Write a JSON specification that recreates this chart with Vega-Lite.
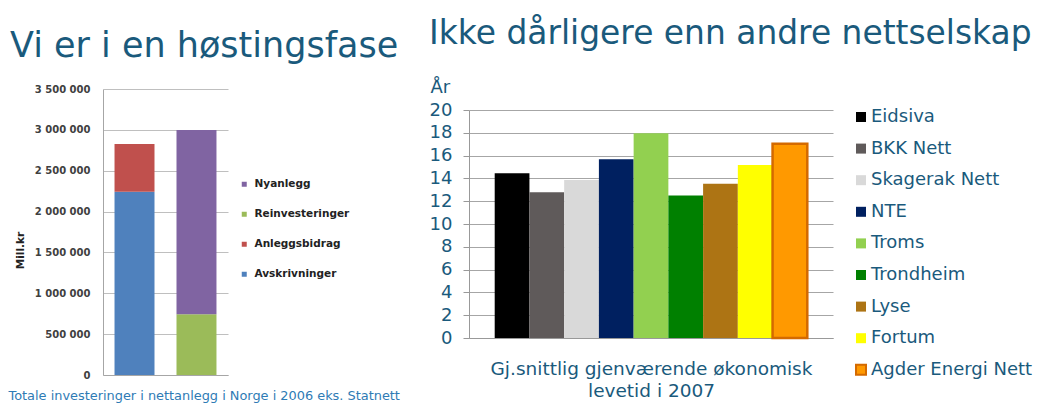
{
  "$schema": "https://vega.github.io/schema/vega-lite/v6.json",
  "background": "white",
  "padding": {"left": 8, "top": 18, "right": 4, "bottom": 2},
  "spacing": 29,
  "resolve": {"scale": {"color": "independent", "stroke": "independent", "x": "independent", "y": "independent"}, "legend": {"color": "independent", "stroke": "independent"}},
  "config": {"view": {"stroke": null}, "font": "DejaVu Sans"},
  "hconcat": [
    {
      "width": 125,
      "height": 286,
      "title": {"text": "Vi er i en høstingsfase", "fontSize": 35, "font": "DejaVu Sans", "fontWeight": "normal", "color": "#1A5A7C", "anchor": "start", "frame": "bounds", "offset": 20, "dx": 2},
      "data": {"values": [
        {"kolonne": "A", "serie": "Avskrivninger", "verdi": 2243000},
        {"kolonne": "A", "serie": "Anleggsbidrag", "verdi": 584000},
        {"kolonne": "B", "serie": "Reinvesteringer", "verdi": 743000},
        {"kolonne": "B", "serie": "Nyanlegg", "verdi": 2255000}
      ]},
      "mark": {"type": "bar"},
      "encoding": {
        "x": {"field": "kolonne", "type": "nominal", "scale": {"paddingInner": 0.355, "paddingOuter": 0.186},
          "axis": {"labels": false, "ticks": false, "domainColor": "#A6A6A6", "title": "Totale investeringer i nettanlegg i Norge i 2006 eks. Statnett", "titleFontSize": 12.9, "titleFontWeight": "normal", "titleColor": "#2E7BB5", "titleAlign": "left", "titleX": -95, "titleY": 24, "titleBaseline": "alphabetic"}},
        "y": {"field": "verdi", "type": "quantitative", "stack": "zero", "scale": {"domain": [0, 3500000]},
          "axis": {"values": [0, 500000, 1000000, 1500000, 2000000, 2500000, 3000000, 3500000], "labelExpr": "replace(format(datum.value, ','), regexp(',', 'g'), ' ')", "ticks": false, "labelPadding": 13, "labelFontSize": 10, "labelFontWeight": "bold", "labelColor": "#404040", "domainColor": "#A6A6A6", "gridColor": "#BFBFBF", "title": "Mill.kr", "titleFontSize": 10.5, "titleFontWeight": "bold", "titleColor": "#222222", "titleX": -83, "titleY": 161, "titleAlign": "center", "titleBaseline": "middle", "titleAngle": -90}},
        "color": {"field": "serie", "type": "nominal",
          "scale": {"domain": ["Nyanlegg", "Reinvesteringer", "Anleggsbidrag", "Avskrivninger"], "range": ["#8064A2", "#9BBB59", "#C0504D", "#4F81BD"]},
          "legend": {"title": null, "orient": "none", "legendX": 136, "legendY": 90, "symbolType": "square", "symbolSize": 25, "symbolStrokeWidth": 0, "labelFontSize": 10.5, "labelFontWeight": "bold", "labelColor": "#222222", "rowPadding": 19, "labelOffset": 5}},
        "order": {"field": "serie", "sort": "descending"}
      }
    },
    {
      "spacing": 20,
      "bounds": "flush",
      "vconcat": [
        {"width": 364, "height": 1, "data": {"values": []}, "mark": {"type": "point", "opacity": 0}},
        {
          "width": 364,
          "height": 228,
          "title": {"text": "Ikke dårligere enn andre nettselskap", "fontSize": 32.9, "font": "DejaVu Sans", "fontWeight": "normal", "color": "#1A5A7C", "anchor": "start", "frame": "bounds", "offset": 27},
          "data": {"values": [
            {"selskap": "Eidsiva", "verdi": 14.45},
            {"selskap": "BKK Nett", "verdi": 12.79},
            {"selskap": "Skagerak Nett", "verdi": 13.87},
            {"selskap": "NTE", "verdi": 15.68},
            {"selskap": "Troms", "verdi": 17.96},
            {"selskap": "Trondheim", "verdi": 12.5},
            {"selskap": "Lyse", "verdi": 13.52},
            {"selskap": "Fortum", "verdi": 15.18},
            {"selskap": "Agder Energi Nett", "verdi": 17.05}
          ]},
          "mark": {"type": "bar", "strokeWidth": 2.5},
          "encoding": {
            "x": {"field": "selskap", "type": "nominal", "sort": null, "scale": {"paddingInner": 0, "paddingOuter": 0.74},
              "axis": {"labels": false, "ticks": false, "domainColor": "#999999", "title": ["Gj.snittlig gjenværende økonomisk", "levetid i 2007"], "titleFontSize": 18.5, "titleFontWeight": "normal", "titleColor": "#1A5A7C", "titlePadding": 21, "titleLineHeight": 22}},
            "y": {"field": "verdi", "type": "quantitative", "scale": {"domain": [0, 20]},
              "axis": {"values": [0, 2, 4, 6, 8, 10, 12, 14, 16, 18, 20], "tickSize": 6, "tickColor": "#999999", "labelPadding": 11, "labelFontSize": 18, "labelColor": "#1A5A7C", "domainColor": "#999999", "gridColor": "#A6A6A6", "title": "År", "titleAngle": 0, "titleX": -39, "titleY": -18, "titleAlign": "left", "titleBaseline": "alphabetic", "titleFontSize": 18, "titleFontWeight": "normal", "titleColor": "#1A5A7C"}},
            "color": {"field": "selskap", "type": "nominal",
              "scale": {"domain": ["Eidsiva", "BKK Nett", "Skagerak Nett", "NTE", "Troms", "Trondheim", "Lyse", "Fortum", "Agder Energi Nett"], "range": ["#000000", "#5F5A5A", "#D9D9D9", "#002060", "#92D050", "#008000", "#AD7414", "#FFFF00", "#FF9900"]},
              "legend": {"title": null, "orient": "none", "legendX": 383, "legendY": 19, "symbolType": "square", "symbolSize": 100, "symbolStrokeWidth": 2, "labelFontSize": 18, "labelColor": "#1A5A7C", "rowPadding": 13.6, "labelOffset": 1, "labelLimit": 300}},
            "stroke": {"field": "selskap", "type": "nominal",
              "scale": {"domain": ["Eidsiva", "BKK Nett", "Skagerak Nett", "NTE", "Troms", "Trondheim", "Lyse", "Fortum", "Agder Energi Nett"], "range": ["transparent", "transparent", "transparent", "transparent", "transparent", "transparent", "transparent", "transparent", "#D46A00"]},
              "legend": {"title": null, "orient": "none", "legendX": 383, "legendY": 19, "symbolType": "square", "symbolSize": 100, "symbolStrokeWidth": 2, "labelFontSize": 18, "labelColor": "#1A5A7C", "rowPadding": 13.6, "labelOffset": 1, "labelLimit": 300}}
          }
        }
      ]
    }
  ]
}
